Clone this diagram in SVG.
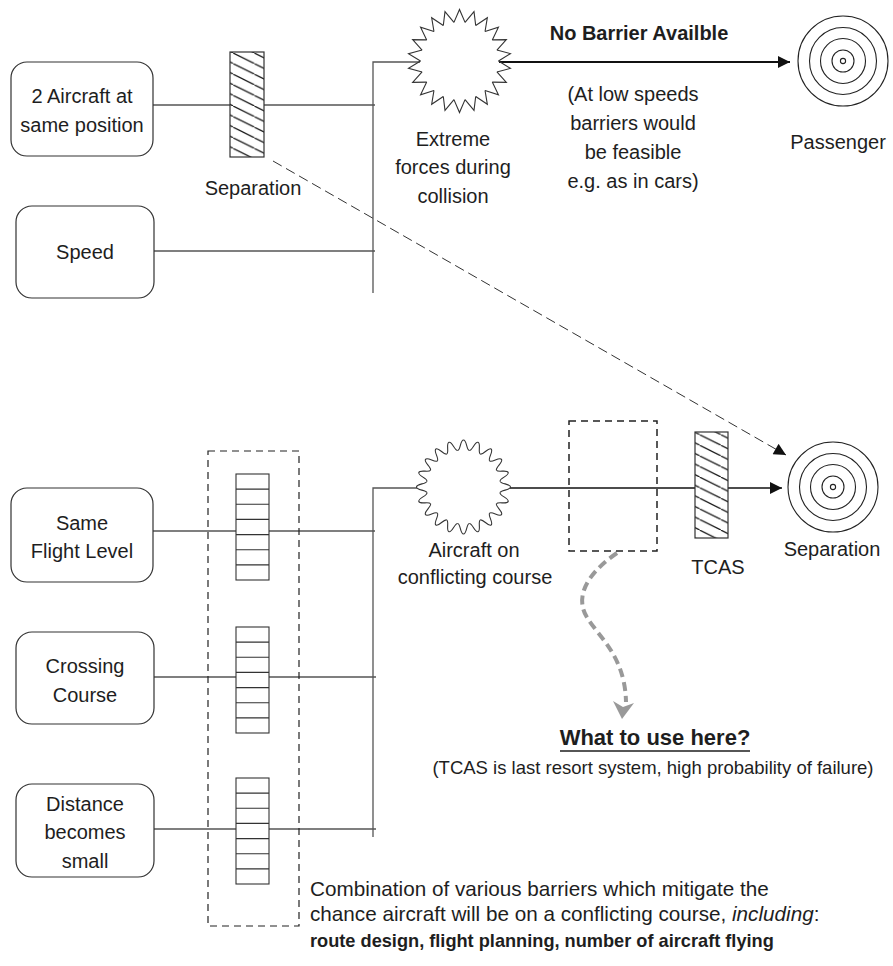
<svg xmlns="http://www.w3.org/2000/svg" xmlns:xlink="http://www.w3.org/1999/xlink" width="893" height="966" viewBox="0 0 893 966">
<style>
  text { font-family: "Liberation Sans", Arial, sans-serif; font-size: 20px; fill: #1e1e1e; text-anchor: middle; }
  .box { fill: #fff; stroke: #333; stroke-width: 1.2; }
  .ln { stroke: #555; stroke-width: 1.3; fill: none; }
  .hatch { fill: url(#hatchPat); stroke: #333; stroke-width: 1.2; }
  .stackr { fill: #fff; stroke: #333; stroke-width: 1.1; }
  .dbox { fill: none; stroke: #222; stroke-width: 1.2; stroke-dasharray: 7 5; }
  .ring { fill: none; stroke: #222; stroke-width: 1.1; }
  .star { fill: none; stroke: #333; stroke-width: 1.1; stroke-linejoin: miter; }
  .b { font-weight: bold; }
</style>
<defs>
  <pattern id="hatchPat" patternUnits="userSpaceOnUse" width="21.2" height="10.6">
    <rect width="21.2" height="10.6" fill="#fff"/>
    <line x1="-2" y1="-1" x2="23.2" y2="11.6" stroke="#111" stroke-width="1.2"/>
  </pattern>
  <marker id="ah" viewBox="0 0 10 10" refX="10" refY="5" markerWidth="13" markerHeight="12" markerUnits="userSpaceOnUse" orient="auto">
    <path d="M0 0 L10 5 L0 10 z" fill="#111"/>
  </marker>
  <g id="stack">
    <rect class="stackr" x="0" y="0" width="33" height="106"/>
    <path d="M0 15.1H33M0 30.3H33M0 45.4H33M0 60.6H33M0 75.7H33M0 90.9H33" stroke="#333" stroke-width="1.1"/>
  </g>
  <polyline id="spike" class="star" points="-5.55,-38.6 0,-51.5 5.55,-38.6"/>
  <path id="lobe" class="star" d="M-5.79 -36.56 C-2.8 -37, -3.4 -47, 0 -47 C3.4 -47, 2.8 -37, 5.79 -36.56"/>
  <g id="target">
    <circle class="ring" r="45"/>
    <circle class="ring" r="33.5"/>
    <circle class="ring" r="22.5"/>
    <circle class="ring" r="11"/>
    <circle class="ring" r="2.6"/>
  </g>
</defs>
<rect width="893" height="966" fill="#fff"/>

<g id="connectors">
  <path class="ln" d="M153 105H375"/>
  <path class="ln" d="M154 251H375"/>
  <path class="ln" d="M373 293V62H420"/>
  <line x1="499" y1="62" x2="790" y2="62" stroke="#111" stroke-width="2" marker-end="url(#ah)"/>
  <line x1="273" y1="161" x2="786" y2="455" stroke="#333" stroke-width="1" stroke-dasharray="10 5" marker-end="url(#ah)"/>
  <path class="ln" d="M153 531H375"/>
  <path class="ln" d="M154 677H376"/>
  <path class="ln" d="M154 829H376"/>
  <path class="ln" d="M373 837V488H417"/>
  <line x1="510" y1="488" x2="782" y2="488" stroke="#111" stroke-width="1.3" marker-end="url(#ah)"/>
  <path d="M617 553 C595 568, 578 588, 583 608 C588 630, 625 648, 626 702" fill="none" stroke="#999" stroke-width="4" stroke-dasharray="9 5"/>
  <path d="M622 719 L613 701 L623 707 L634 703 Z" fill="#999"/>
</g>

<g id="n-aircraft-same-pos">
  <rect class="box" x="11" y="62" width="142" height="94" rx="16"/>
  <text x="82" y="103">2 Aircraft at</text>
  <text x="82" y="132">same position</text>
</g>
<g id="n-speed">
  <rect class="box" x="16" y="206" width="138" height="92" rx="16"/>
  <text x="85" y="259">Speed</text>
</g>
<g id="n-separation-barrier">
  <rect class="hatch" x="230" y="52" width="34" height="105"/>
  <text x="253" y="195">Separation</text>
</g>
<g id="n-extreme-forces">
  <g transform="translate(459.5 61)">
    <use xlink:href="#spike"/>
    <use xlink:href="#spike" transform="rotate(16.364)"/>
    <use xlink:href="#spike" transform="rotate(32.727)"/>
    <use xlink:href="#spike" transform="rotate(49.091)"/>
    <use xlink:href="#spike" transform="rotate(65.455)"/>
    <use xlink:href="#spike" transform="rotate(81.818)"/>
    <use xlink:href="#spike" transform="rotate(98.182)"/>
    <use xlink:href="#spike" transform="rotate(114.545)"/>
    <use xlink:href="#spike" transform="rotate(130.909)"/>
    <use xlink:href="#spike" transform="rotate(147.273)"/>
    <use xlink:href="#spike" transform="rotate(163.636)"/>
    <use xlink:href="#spike" transform="rotate(180)"/>
    <use xlink:href="#spike" transform="rotate(196.364)"/>
    <use xlink:href="#spike" transform="rotate(212.727)"/>
    <use xlink:href="#spike" transform="rotate(229.091)"/>
    <use xlink:href="#spike" transform="rotate(245.455)"/>
    <use xlink:href="#spike" transform="rotate(261.818)"/>
    <use xlink:href="#spike" transform="rotate(278.182)"/>
    <use xlink:href="#spike" transform="rotate(294.545)"/>
    <use xlink:href="#spike" transform="rotate(310.909)"/>
    <use xlink:href="#spike" transform="rotate(327.273)"/>
    <use xlink:href="#spike" transform="rotate(343.636)"/>
  </g>
  <text x="453" y="146">Extreme</text>
  <text x="453" y="174">forces during</text>
  <text x="453" y="203">collision</text>
</g>
<g id="n-no-barrier">
  <text class="b" x="639" y="40">No Barrier Availble</text>
  <text x="633" y="101">(At low speeds</text>
  <text x="633" y="130">barriers would</text>
  <text x="633" y="159">be feasible</text>
  <text x="633" y="188">e.g. as in cars)</text>
</g>
<g id="n-passenger">
  <use xlink:href="#target" x="843" y="61"/>
  <text x="838" y="149">Passenger</text>
</g>

<g id="n-barrier-group">
  <rect class="dbox" x="208" y="451" width="91" height="475"/>
  <use xlink:href="#stack" x="236" y="474"/>
  <use xlink:href="#stack" x="236" y="627"/>
  <use xlink:href="#stack" x="236" y="778"/>
</g>
<g id="n-same-fl">
  <rect class="box" x="11" y="488" width="142" height="94" rx="16"/>
  <text x="82" y="530">Same</text>
  <text x="82" y="558">Flight Level</text>
</g>
<g id="n-crossing">
  <rect class="box" x="16" y="632" width="138" height="92" rx="16"/>
  <text x="85" y="673">Crossing</text>
  <text x="85" y="702">Course</text>
</g>
<g id="n-distance">
  <rect class="box" x="16" y="784" width="138" height="93" rx="16"/>
  <text x="85" y="811">Distance</text>
  <text x="85" y="839">becomes</text>
  <text x="85" y="868">small</text>
</g>
<g id="n-conflicting">
  <g transform="translate(463.5 487)">
    <use xlink:href="#lobe"/>
    <use xlink:href="#lobe" transform="rotate(18)"/>
    <use xlink:href="#lobe" transform="rotate(36)"/>
    <use xlink:href="#lobe" transform="rotate(54)"/>
    <use xlink:href="#lobe" transform="rotate(72)"/>
    <use xlink:href="#lobe" transform="rotate(90)"/>
    <use xlink:href="#lobe" transform="rotate(108)"/>
    <use xlink:href="#lobe" transform="rotate(126)"/>
    <use xlink:href="#lobe" transform="rotate(144)"/>
    <use xlink:href="#lobe" transform="rotate(162)"/>
    <use xlink:href="#lobe" transform="rotate(180)"/>
    <use xlink:href="#lobe" transform="rotate(198)"/>
    <use xlink:href="#lobe" transform="rotate(216)"/>
    <use xlink:href="#lobe" transform="rotate(234)"/>
    <use xlink:href="#lobe" transform="rotate(252)"/>
    <use xlink:href="#lobe" transform="rotate(270)"/>
    <use xlink:href="#lobe" transform="rotate(288)"/>
    <use xlink:href="#lobe" transform="rotate(306)"/>
    <use xlink:href="#lobe" transform="rotate(324)"/>
    <use xlink:href="#lobe" transform="rotate(342)"/>
  </g>
  <text x="474" y="557">Aircraft on</text>
  <text x="475" y="584">conflicting course</text>
</g>
<g id="n-unknown-barrier">
  <rect class="dbox" x="569" y="421" width="88" height="130" style="stroke-width:1.5"/>
</g>
<g id="n-tcas">
  <rect class="hatch" x="695" y="432" width="33" height="106"/>
  <text x="718" y="574">TCAS</text>
</g>
<g id="n-separation-target">
  <use xlink:href="#target" x="833" y="487"/>
  <text x="832" y="556">Separation</text>
</g>
<g id="n-what-here">
  <text class="b" x="655" y="745" style="font-size:22px">What to use here?</text>
  <line x1="560" y1="751" x2="750" y2="751" stroke="#1e1e1e" stroke-width="1.5"/>
  <text x="653" y="774" style="font-size:18.5px">(TCAS is last resort system, high probability of failure)</text>
</g>
<g id="n-combination">
  <text x="310" y="896" style="text-anchor:start;font-size:20.7px">Combination of various barriers which mitigate the</text>
  <text x="310" y="921" style="text-anchor:start;font-size:20.7px">chance aircraft will be on a conflicting course, <tspan font-style="italic">including</tspan>:</text>
  <text class="b" x="310" y="947" style="text-anchor:start;font-size:18.2px">route design, flight planning, number of aircraft flying</text>
</g>
</svg>
